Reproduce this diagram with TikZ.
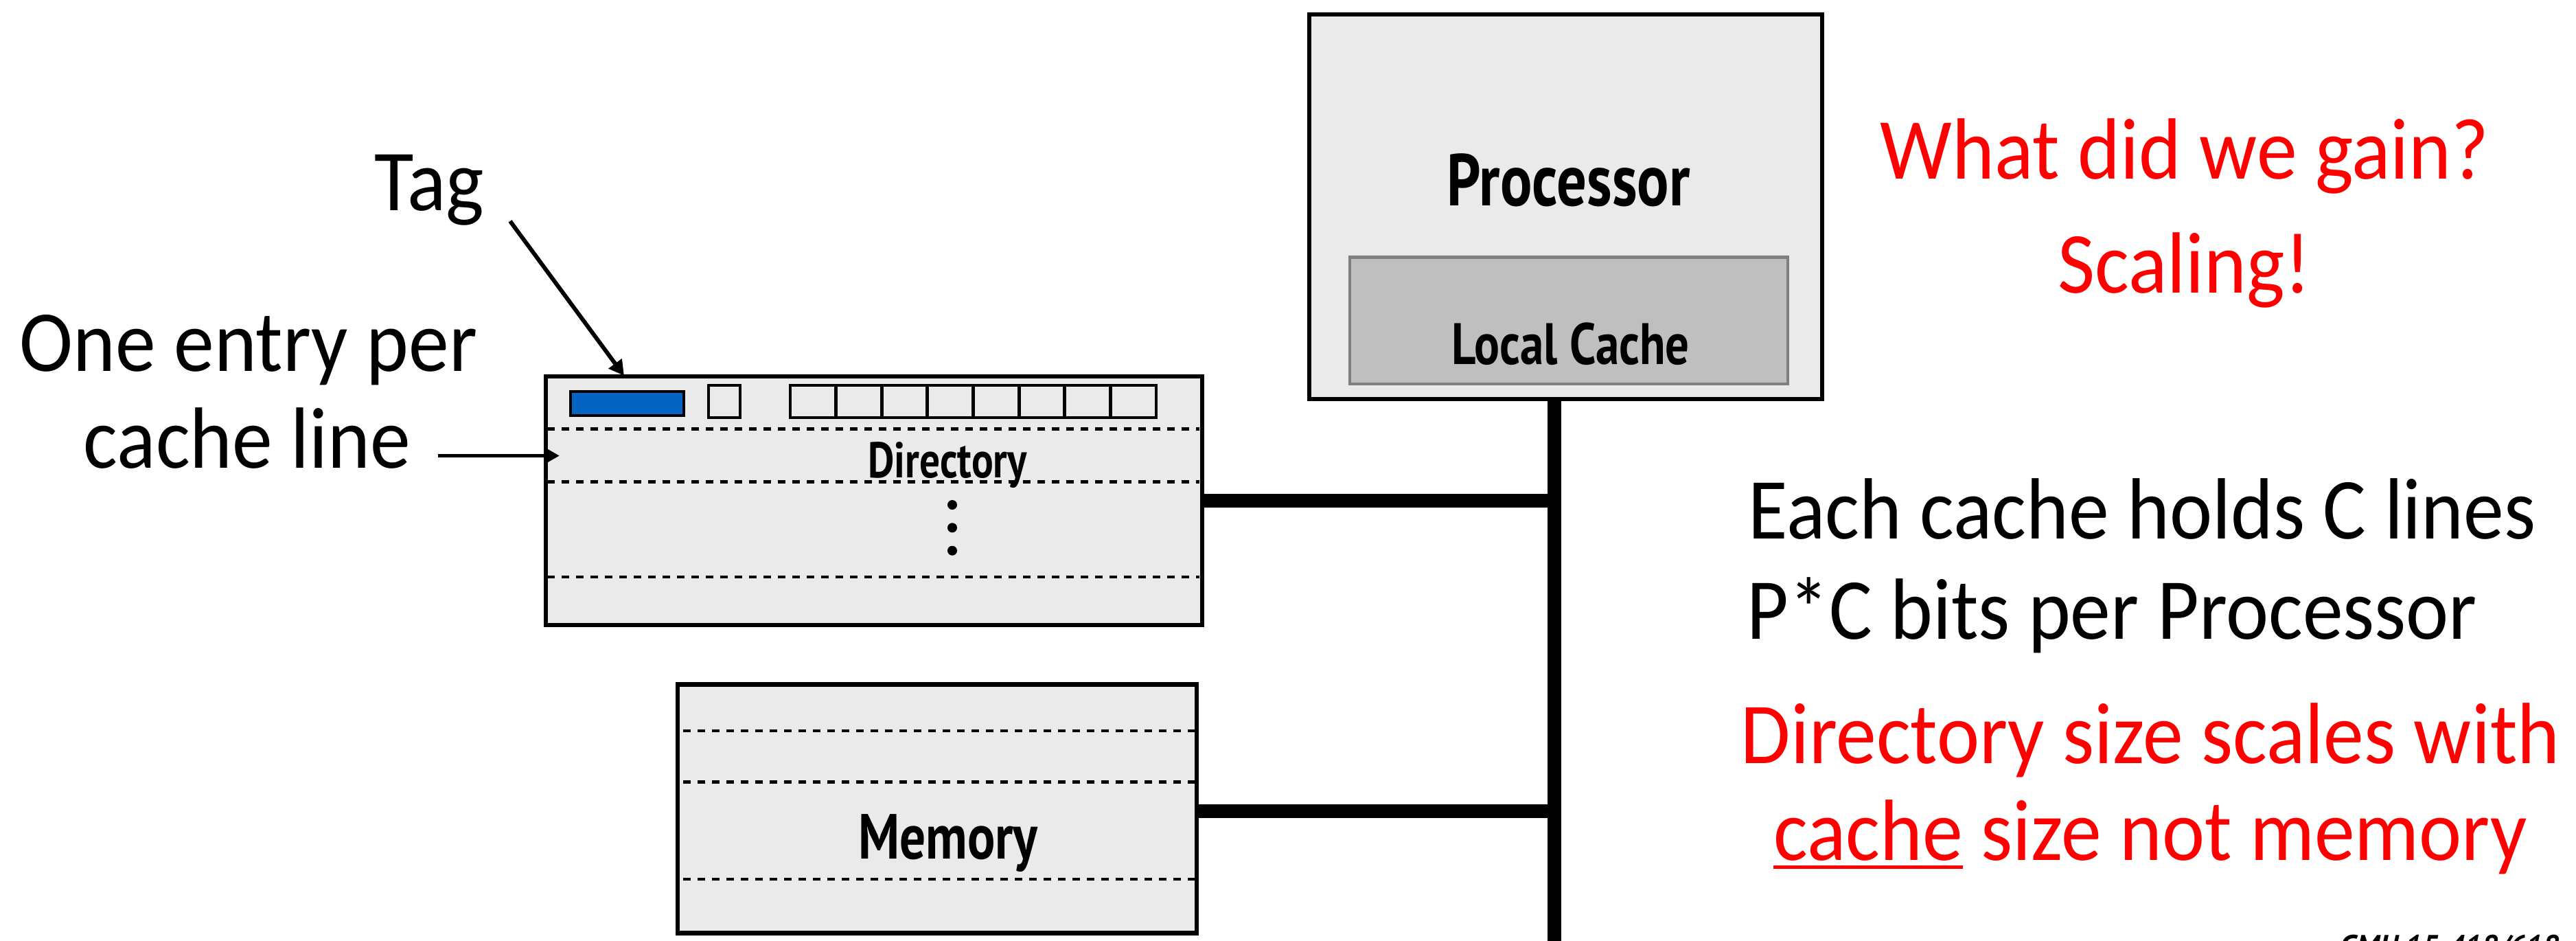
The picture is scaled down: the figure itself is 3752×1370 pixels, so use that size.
\documentclass[tikz,border=0pt]{standalone}
\usepackage{fontspec}
\usetikzlibrary{arrows.meta}
\newfontfamily\gillfont[FakeStretch=0.93]{Carlito}
\newfontfamily\condfont[FakeStretch=0.81]{PT Sans}
\newfontfamily\cmufont{PT Sans}
\definecolor{boxgray}{HTML}{EAEAEA}
\definecolor{cachegray}{HTML}{BFBFBF}
\definecolor{cacheedge}{HTML}{7F7F7F}
\definecolor{tagblue}{HTML}{0563C1}
\definecolor{hotred}{HTML}{FF0000}
\newcommand\myul[1]{\setbox0\hbox{#1}\rlap{\rule[-3.55pt]{\wd0}{1.42pt}}\box0}
\tikzset{
  unitbox/.style={draw=black, line width=1.8pt, fill=boxgray, inner sep=0pt, outer sep=0pt},
  cellbox/.style={draw=black, line width=1.4pt, inner sep=0pt, outer sep=0pt, minimum height=4.7mm},
  dashline/.style={line width=1.35pt, dash pattern=on 1.1mm off 1.0mm},
  busline/.style={line width=5.7pt},
  pointer/.style={line width=1.7pt, -{Triangle[length=2.2mm,width=2.3mm]}},
  glabel/.style={font=\gillfont\fontsize{36}{40}\selectfont, inner sep=0pt, anchor=base},
  clabel/.style={font=\condfont\bfseries, inner sep=0pt, anchor=base}
}
\begin{document}
\begin{tikzpicture}[x=0.1mm,y=-0.1mm]
\useasboundingbox (0,0) rectangle (3752,1370);
\clip (0,0) rectangle (3752,1370);

% Processor
\node[unitbox, minimum width=74.7mm, minimum height=56mm] (proc) at (2280.5,301) {};
\node[draw=cacheedge, line width=1.14pt, fill=cachegray, inner sep=0pt, minimum width=63.8mm, minimum height=18.45mm] (lcache) at (2285,466.75) {};
\node[clabel] (proclbl) at (2284.5,299.3) {\fontsize{30.4}{32}\selectfont Processor};
\node[clabel] (lclbl) at (2287.5,530) {\fontsize{24.2}{26}\selectfont Local Cache};

% Bus
\coordinate (busTop) at (2263.5,581);
\coordinate (busBot) at (2263.5,1400);
\draw[busline] (busTop) -- (busBot);

% Directory
\node[unitbox, minimum width=95.6mm, minimum height=36.2mm] (dir) at (1273,729) {};
\node[cellbox, fill=tagblue, minimum width=16.5mm, minimum height=3.5mm] (tagcell) at (913.5,587.5) {};
\node[cellbox, minimum width=4.6mm] (bitcell) at (1055,584.5) {};
\foreach \i in {1,...,8}{
  \node[cellbox, minimum width=6.66mm] (cell\i) at ({1151+66.625*(\i-0.5)},584.5) {};
}
\foreach \yy in {624.3,701.7,840}{
  \draw[dashline] (797,\yy) -- (1747,\yy);
}
\node[clabel] (dirlbl) at (1380,695.7) {\fontsize{20.8}{22}\selectfont Directory};
\foreach \yy in {735,768.3,801.7}{
  \fill (1387,\yy) circle[radius=0.7mm];
}
\draw[busline] (dir.east) -- (dir.east -| busTop);

% Memory
\node[unitbox, minimum width=75.6mm, minimum height=36.2mm] (mem) at (1365,1177.5) {};
\foreach \yy in {1064,1138.7,1280}{
  \draw[dashline] (995,\yy) -- (1749,\yy);
}
\node[clabel] (memlbl) at (1381,1250.7) {\fontsize{26.4}{28}\selectfont Memory};
\draw[busline] ([yshift=-0.35mm]mem.east) -- ([yshift=-0.35mm]mem.east -| busTop);

% Left labels
\node[glabel] (tag) at (625,306.7) {Tag};
\coordinate (tagtail) at (743,322);
\coordinate (tagtip) at (909,547);
\draw[pointer] (tagtail) -- (tagtip);
\node[glabel] (entry1) at (362,540) {One entry per};
\node[glabel] (entry2) at (360,681.7) {cache line};
\coordinate (linetail) at (638,663.5);
\coordinate (linetip) at (815,663.5);
\draw[pointer] (linetail) -- (linetip);

% Right texts
\node[glabel, text=hotred] (gain) at (3182,261) {What did we gain?};
\node[glabel, text=hotred] (scal) at (3182,426.7) {Scaling!};
\node[glabel, anchor=base west] (each) at (2546,784) {Each cache holds C lines};
\node[glabel, anchor=base west] (pc) at (2544,930) {P*C bits per Processor};
\node[glabel, text=hotred] (dsize1) at (3132,1111) {Directory size scales with};
\node[glabel, text=hotred] (dsize2) at (3132,1252.6) {\myul{cache}\ size not memory};

% Footer (cut off by the lower edge, as in the reference)
\node[anchor=base west, inner sep=0pt, font=\cmufont\bfseries\itshape\fontsize{12.5}{14}\selectfont] (cmu) at (3408,1392) {CMU 15-418/618};
\end{tikzpicture}
\end{document}
